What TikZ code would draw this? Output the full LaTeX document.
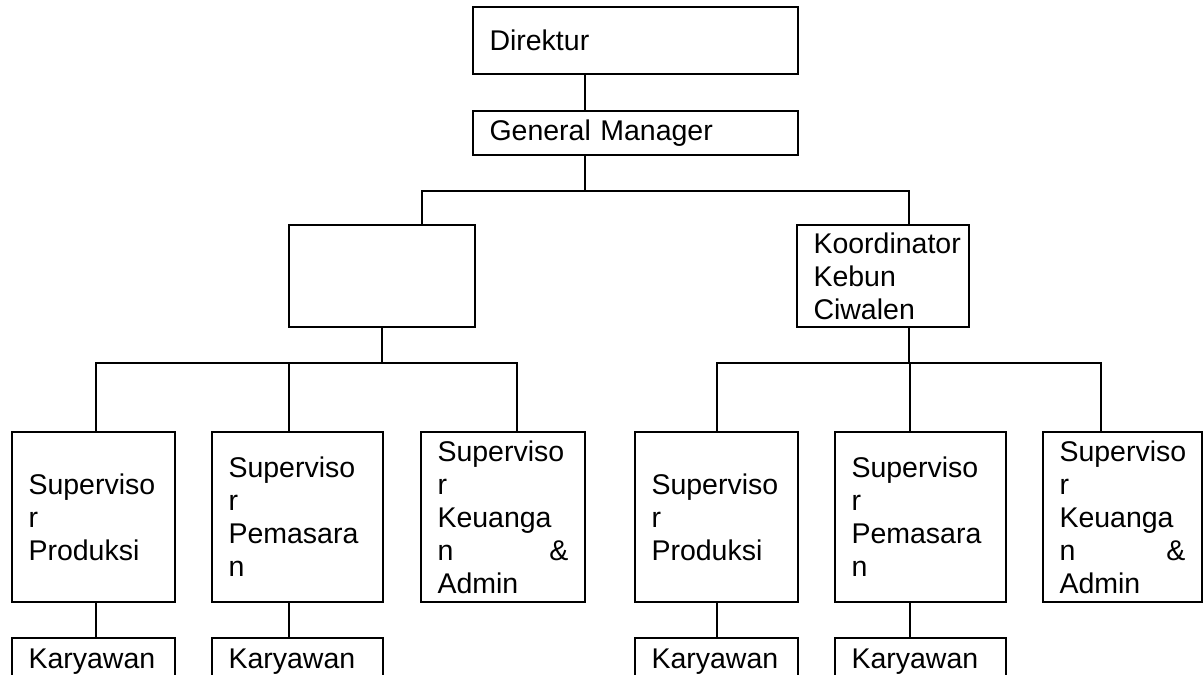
\documentclass[tikz,border=0pt]{standalone}
\usepackage{fontspec}
\setmainfont{Liberation Sans}
\begin{document}
\begin{tikzpicture}[x=1pt,y=-1pt,
  box/.style={draw, line width=2pt, anchor=north west, outer sep=0pt,
    inner xsep=16.5pt, inner ysep=0pt, align=left,
    font=\fontsize{28.5}{33}\selectfont},
  conn/.style={line width=2pt}]
\useasboundingbox (0,0) rectangle (1203,675);
\clip (0,0) rectangle (1203,675);
% top levels
\node[box, minimum width=325pt, minimum height=67pt, text width=292pt] (dir) at (473,7) {Direktur};
\node[box, minimum width=325pt, minimum height=44pt, text width=292pt] (gm) at (473,111) {General Manager};
\node[box, minimum width=186pt, minimum height=102pt, text width=153pt] (lb) at (289,225) {};
\node[box, minimum width=172pt, minimum height=102pt, text width=139pt] (ko) at (797,225) {Koordinator\\Kebun\\Ciwalen};
% supervisors
\node[box, minimum width=163pt, minimum height=170pt, text width=130pt] (s1) at (12,432) {Superviso\\r\\Produksi};
\node[box, minimum width=171pt, minimum height=170pt, text width=138pt] (s2) at (212,432) {Superviso\\r\\Pemasara\\n};
\node[box, minimum width=164pt, minimum height=170pt, text width=131pt] (s3) at (421,432) {Superviso\\r\\Keuanga\\n\hfill\&\\Admin};
\node[box, minimum width=163pt, minimum height=170pt, text width=130pt] (s4) at (635,432) {Superviso\\r\\Produksi};
\node[box, minimum width=171pt, minimum height=170pt, text width=138pt] (s5) at (835,432) {Superviso\\r\\Pemasara\\n};
\node[box, minimum width=159pt, minimum height=170pt, text width=126pt] (s6) at (1043,432) {Superviso\\r\\Keuanga\\n\hfill\&\\Admin};
% karyawan
\node[box, minimum width=163pt, minimum height=47pt, text width=130pt] (k1) at (12,638) {Karyawan};
\node[box, minimum width=171pt, minimum height=47pt, text width=138pt] (k2) at (212,638) {Karyawan};
\node[box, minimum width=163pt, minimum height=47pt, text width=130pt] (k4) at (635,638) {Karyawan};
\node[box, minimum width=171pt, minimum height=47pt, text width=138pt] (k5) at (835,638) {Karyawan};
% junctions
\coordinate (j0) at (585,191);
\coordinate (jl) at (422,191);
\coordinate (jr) at (909,191);
\coordinate (mL) at (382,363);
\coordinate (a1) at (96,363);
\coordinate (a2) at (289,363);
\coordinate (a3) at (517,363);
\coordinate (mR) at (909,363);
\coordinate (b1) at (717,363);
\coordinate (b2) at (910,363);
\coordinate (b3) at (1101,363);
% connectors
\draw[conn] (dir.south -| j0) -- (gm.north -| j0);
\draw[conn] (gm.south -| j0) -- (j0);
\draw[conn] (lb.north -| jl) |- (jr) -- (ko.north -| jr);
\draw[conn] (lb.south -| mL) -- (mL);
\draw[conn] (s1.north -| a1) |- (a3) -- (s3.north -| a3);
\draw[conn] (s2.north -| a2) -- (a2);
\draw[conn] (ko.south -| mR) -- (mR);
\draw[conn] (s4.north -| b1) |- (b3) -- (s6.north -| b3);
\draw[conn] (s5.north -| b2) -- (b2);
\draw[conn] (s1.south -| a1) -- (k1.north -| a1);
\draw[conn] (s2.south -| a2) -- (k2.north -| a2);
\draw[conn] (s4.south -| b1) -- (k4.north -| b1);
\draw[conn] (s5.south -| b2) -- (k5.north -| b2);
\end{tikzpicture}
\end{document}
